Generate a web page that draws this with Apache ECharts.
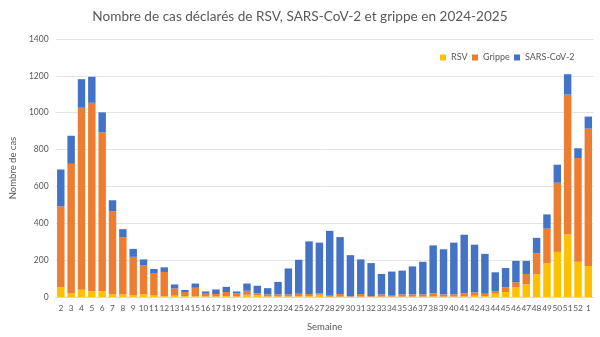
<!DOCTYPE html>
<html><head><meta charset="utf-8">
<script src="https://cdn.jsdelivr.net/npm/echarts@6/dist/echarts.min.js"></script>
<style>html,body{margin:0;padding:0;background:#fff}#c{width:600px;height:337px}</style>
</head><body><div id="c"></div>
<script>
const weeks = ['2','3','4','5','6','7','8','9','10','11','12','13','14','15','16','17','18','19','20','21','22','23','24','25','26','27','28','29','30','31','32','33','34','35','36','37','38','39','40','41','42','43','44','45','46','47','48','49','50','51','52','1'];
const rsv = [52,21,39,32,32,16,14,11,16,11,4,7,4,4,3,3,5,3,12,9,3,3,3,3,4,12,2,2,1,2,1,2,2,2,2,2,3,2,2,3,7,4,18,27,52,68,123,182,245,339,191,168];
const grippe = [440,702,988,1022,861,450,311,207,155,119,132,39,23,46,15,13,22,18,22,11,11,11,11,15,12,9,9,14,3,14,4,12,9,12,12,12,17,12,12,18,18,14,12,25,28,57,115,189,375,759,563,746];
const covid = [200,152,155,141,109,59,43,43,33,22,25,22,11,23,12,25,28,9,39,41,34,68,141,184,286,274,348,309,223,188,179,111,127,129,152,177,260,245,281,317,259,216,104,105,116,71,83,77,98,111,53,65];
const yTicks = [0,200,400,600,800,1000,1200,1400];
const seriesNames = ['RSV','Grippe','SARS-CoV-2'];

const chart = echarts.init(document.getElementById('c'), null, {renderer:'canvas'});
const font = 'Lato, sans-serif';
const mk = (name, data, color) => ({name, type:'bar', stack:'t', data, itemStyle:{color}, barCategoryGap:'28%'});
const legendLeft = [440, 472, 514];
chart.setOption({
  animation:false,
  textStyle:{fontFamily:font},
  title:{text:'Nombre de cas déclarés de RSV, SARS-CoV-2 et grippe en 2024-2025', left:'center', top:5,
    textStyle:{fontSize:13.6, fontWeight:'normal', color:'#595959', fontFamily:font}},
  legend: seriesNames.map((n,i) => ({data:[n], left:legendLeft[i], top:53, itemWidth:6, itemHeight:6, icon:'rect', padding:0,
    textStyle:{fontSize:9, color:'#595959', fontFamily:font}})),
  grid:{left:43.5, right:6.5, top:39, bottom:36.5, containLabel:false},
  xAxis:{type:'category', data:weeks, name:'Semaine', nameLocation:'middle', nameGap:25,
    nameTextStyle:{fontSize:9.5, color:'#595959', fontFamily:font},
    axisTick:{show:false}, axisLine:{lineStyle:{color:'#d9d9d9'}},
    axisLabel:{interval:0, fontSize:8.3, color:'#595959', margin:7, fontFamily:font}},
  yAxis:{type:'value', min:yTicks[0], max:yTicks[yTicks.length-1], interval:200,
    name:'Nombre de cas', nameLocation:'middle', nameGap:25,
    nameTextStyle:{fontSize:9.5, color:'#595959', fontFamily:font},
    axisLabel:{fontSize:8.5, color:'#595959', margin:7, fontFamily:font, formatter:v => String(v)},
    splitLine:{lineStyle:{color:'#e4e4e4'}}, axisLine:{show:false}, axisTick:{show:false}},
  series:[mk(seriesNames[0], rsv, '#FFC000'), mk(seriesNames[1], grippe, '#ED7D31'), mk(seriesNames[2], covid, '#4472C4')]
});
</script></body></html>
